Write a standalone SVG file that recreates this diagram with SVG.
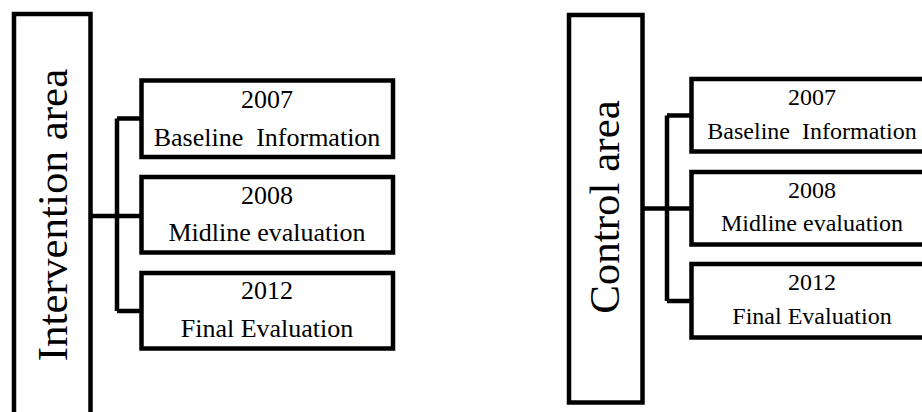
<svg xmlns="http://www.w3.org/2000/svg" width="922" height="412" viewBox="0 0 922 412">
<style>
.box{fill:#fff;stroke:#000;stroke-width:4.5;stroke-linejoin:miter}
.ln{fill:none;stroke:#000;stroke-width:4.5;stroke-linejoin:miter}
text{font-family:"Liberation Serif","Times New Roman",serif;fill:#000;text-anchor:middle}
.big{font-size:43px}
.l{font-size:26px}
.r{font-size:24px}
</style>
<rect width="922" height="412" fill="#fff"/>
<g id="connectors">
<path class="ln" d="M91,216 H141.5 M117,118.5 V311 M117,118.5 H141.5 M117,311 H141.5"/>
<path class="ln" d="M642.5,208.5 H691.5 M667,115.5 V301 M667,115.5 H691.5 M667,301 H691.5"/>
</g>
<g id="intervention">
<rect class="box" x="14" y="14" width="76.5" height="410"/>
<text class="big" transform="translate(67,215) rotate(-90)">Intervention area</text>
</g>
<g id="i2007">
<rect class="box" x="141.5" y="80.5" width="251.5" height="76.5"/>
<text class="l" x="267" y="108">2007</text>
<text class="l" x="267" y="145.5" xml:space="preserve">Baseline  Information</text>
</g>
<g id="i2008">
<rect class="box" x="141.5" y="177" width="251.5" height="75.5"/>
<text class="l" x="267" y="203.5">2008</text>
<text class="l" x="267" y="241">Midline evaluation</text>
</g>
<g id="i2012">
<rect class="box" x="141.5" y="273" width="251.5" height="75.5"/>
<text class="l" x="267" y="299">2012</text>
<text class="l" x="267" y="337">Final Evaluation</text>
</g>
<g id="control">
<rect class="box" x="569" y="15" width="73.5" height="387.5"/>
<text class="big" transform="translate(619,207) rotate(-90)">Control area</text>
</g>
<g id="c2007">
<rect class="box" x="691.5" y="79" width="241" height="72.5"/>
<text x="812" y="105" class="r">2007</text>
<text x="812" y="139" class="r" xml:space="preserve">Baseline  Information</text>
</g>
<g id="c2008">
<rect class="box" x="691.5" y="172" width="241" height="72.5"/>
<text x="812" y="197.5" class="r">2008</text>
<text x="812" y="231" class="r">Midline evaluation</text>
</g>
<g id="c2012">
<rect class="box" x="691.5" y="264" width="241" height="73.5"/>
<text x="812" y="290" class="r">2012</text>
<text x="812" y="323.5" class="r">Final Evaluation</text>
</g>
</svg>
